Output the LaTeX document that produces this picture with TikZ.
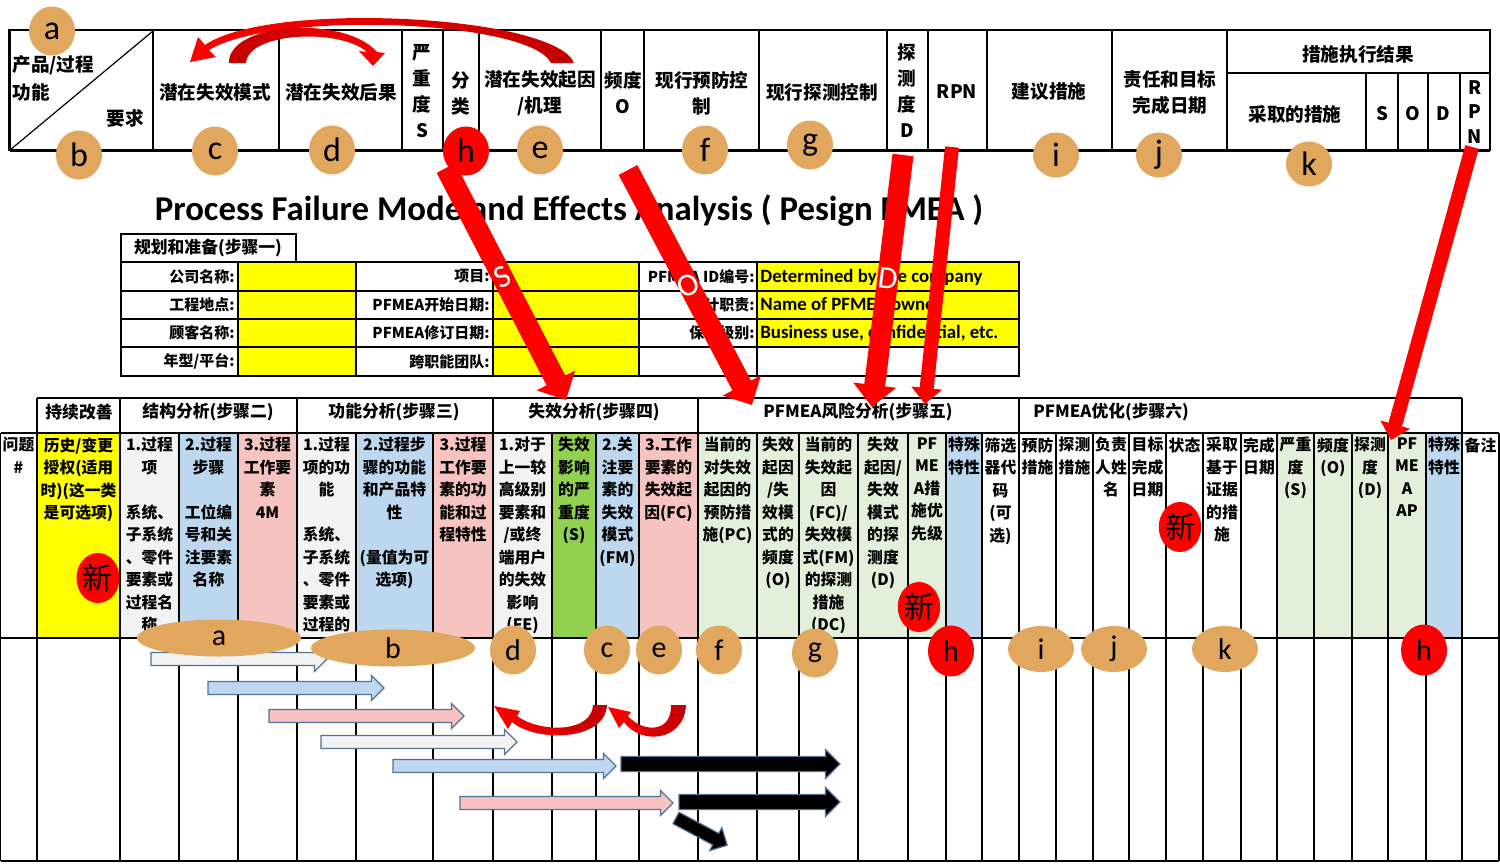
\documentclass[tikz,border=0pt]{standalone}
\usepackage{fontspec}
\setmainfont{Carlito}
\newfontfamily\cjk{Noto Sans CJK SC}
\usetikzlibrary{shapes.geometric,arrows.meta}
\definecolor{bubble}{RGB}{225,167,95}
\definecolor{ylw}{RGB}{255,255,0}
\definecolor{lgray}{RGB}{242,242,242}
\definecolor{lblue}{RGB}{189,215,238}
\definecolor{lpink}{RGB}{246,195,192}
\definecolor{grn}{RGB}{146,208,80}
\definecolor{lgrn}{RGB}{226,239,218}
\definecolor{dred}{RGB}{192,0,0}
\definecolor{arrline}{RGB}{84,112,150}
% block arrow: x start, x tip, y, fill, half shaft, half head
\newcommand{\barrow}[6]{\draw[barr,fill=#4] (#1,#3-#5) -- (#2-#6,#3-#5) -- (#2-#6,#3-#6) -- (#2,#3) -- (#2-#6,#3+#6) -- (#2-#6,#3+#5) -- (#1,#3+#5) -- cycle;}

\begin{document}
\begin{tikzpicture}[x=0.5pt,y=-0.5pt,
	rule/.style={line width=0.6pt},
	tblframe/.style={line width=1.1pt},
	tophd/.style={align=center,inner sep=0pt,font=\cjk\bfseries\fontsize{9.3}{13}\selectfont},
	stephd/.style={inner sep=0pt,font=\cjk\bfseries\fontsize{8.4}{10}\selectfont},
	colhd/.style={anchor=north,align=center,inner sep=0pt,font=\cjk\bfseries\fontsize{7.9}{11.25}\selectfont},
	infolab/.style={anchor=east,inner sep=0pt,font=\cjk\bfseries\fontsize{7.5}{9}\selectfont},
	infoval/.style={anchor=base west,inner sep=0pt,font=\bfseries\fontsize{9.4}{11}\selectfont},
	bub/.style={ellipse,fill=bubble,inner sep=0pt,minimum width=23pt,minimum height=24.5pt,font=\fontsize{17}{17}\selectfont},
	lowbub/.style={bub,font=\fontsize{15}{15}\selectfont},
	redbub/.style={bub,fill=red},
	newbub/.style={ellipse,fill=red,inner sep=0pt,minimum width=19pt,minimum height=25pt,font=\cjk\fontsize{15}{15}\selectfont},
	bigarr/.style={draw=red,line width=10.5pt,-{Triangle[length=11pt,width=21pt]}},
	thinarr/.style={draw=red,line width=7pt,-{Triangle[length=8pt,width=15pt]}},
	arrlab/.style={text=white,inner sep=0pt,font=\fontsize{16}{16}\selectfont},
	barr/.style={draw=arrline,line width=0.6pt}]
	\useasboundingbox (0,0) rectangle (1500,863);
	% old form header
	\draw[tblframe] (9.5,30) rectangle (1490,150);
	\draw[rule] (10,150) -- (153,31);
	\foreach \x in {153,279,402,443,479,601,644,759,887,928,987,1112,1227}
		\draw[rule] (\x,30) -- (\x,150);
	\draw[rule] (1227,73) -- (1490,73);
	\foreach \x in {1366,1398,1428,1460}
		\draw[rule] (\x,73) -- (\x,150);
	\draw[line width=1.5pt] (9.5,150) -- (1490,150);
	\node[tophd,anchor=west] (tPF) at (12,65) {产品/过程};
	\node[tophd,anchor=west] (tFn) at (12,92) {功能};
	\node[tophd] (tReq) at (125,118) {要求};
	\node[tophd] (tFM) at (215,92) {潜在失效模式};
	\node[tophd] (tFE) at (341,92) {潜在失效后果};
	\node[tophd] (tSev) at (422,91) {严\\重\\度\\S};
	\node[tophd] (tCls) at (461,93) {分\\类};
	\node[tophd] (tFC) at (540,93) {潜在失效起因\\/机理};
	\node[tophd] (tOcc) at (623,93) {频度\\O};
	\node[tophd] (tPC) at (702,93) {现行预防控\\制};
	\node[tophd] (tDC) at (822,92) {现行探测控制};
	\node[tophd] (tDet) at (907,91) {探\\测\\度\\D};
	\node[tophd] (tRPN) at (957,92) {RPN};
	\node[tophd] (tRec) at (1049,92) {建议措施};
	\node[tophd] (tResp) at (1170,93) {责任和目标\\完成日期};
	\node[tophd] (tRes) at (1358,54) {措施执行结果};
	\node[tophd] (tAct) at (1295,114) {采取的措施};
	\node[tophd] (tS) at (1382,114) {S};
	\node[tophd] (tO) at (1413,114) {O};
	\node[tophd] (tD) at (1443,114) {D};
	\node[tophd,font=\cjk\bfseries\fontsize{9.3}{12.3}\selectfont] (tRPN2) at (1475,112) {R\\P\\N};
	% title
	\node[anchor=base,inner sep=0pt,font=\bfseries\fontsize{17.4}{17.4}\selectfont] (title) at (569,220)
		{Process Failure Mode and Effects Analysis ( Pesign FMEA )};
	% planning and preparation
	\draw[rule] (121,234) rectangle (296,262);
	\node[stephd] (plan) at (208,248) {规划和准备(步骤一)};
	\fill[ylw] (238,262) rectangle (356,376);
	\fill[ylw] (493,262) rectangle (639,376);
	\fill[ylw] (757,262) rectangle (1019,347);
	\draw[rule] (121,262) rectangle (1019,376);
	\foreach \y in {291,319,347}
		\draw[rule] (121,\y) -- (1019,\y);
	\foreach \x in {238,356,493,639,757}
		\draw[rule] (\x,262) -- (\x,376);
	\node[infolab] (iComp) at (235,276.5) {公司名称:};
	\node[infolab] (iSite) at (235,305) {工程地点:};
	\node[infolab] (iCust) at (235,333) {顾客名称:};
	\node[infolab] (iYear) at (235,361.5) {年型/平台:};
	\node[infolab] (iProj) at (490,276.5) {项目:};
	\node[infolab] (iStart) at (490,305) {PFMEA开始日期:};
	\node[infolab] (iRev) at (490,333) {PFMEA修订日期:};
	\node[infolab] (iTeam) at (490,361.5) {跨职能团队:};
	\node[infolab] (iID) at (755,276.5) {PFMEA ID编号:};
	\node[infolab] (iResp) at (755,305) {设计职责:};
	\node[infolab] (iConf) at (755,333) {保密级别:};
	\node[infoval] (vID) at (760,282) {Determined by the company};
	\node[infoval] (vResp) at (760,310.5) {Name of PFMEA owner};
	\node[infoval] (vConf) at (760,338.5) {Business use, confidential, etc.};
	% new form, column colours
	\fill[ylw] (37,433) rectangle (120,638);
	\fill[lgray] (120,433) rectangle (179,638);
	\fill[lblue] (179,433) rectangle (238,638);
	\fill[lpink] (238,433) rectangle (297,638);
	\fill[lgray] (297,433) rectangle (356,638);
	\fill[lblue] (356,433) rectangle (433,638);
	\fill[lpink] (433,433) rectangle (493,638);
	\fill[lgray] (493,433) rectangle (552,638);
	\fill[grn] (552,433) rectangle (596,638);
	\fill[lblue] (596,433) rectangle (639,638);
	\fill[lpink] (639,433) rectangle (698,638);
	\fill[lgrn] (698,433) rectangle (946,638);
	\fill[lblue] (946,433) rectangle (982,638);
	\fill[lgrn] (1277,433) rectangle (1426,638);
	\fill[lblue] (1426,433) rectangle (1462,638);
	% new form, grid
	\draw[rule] (37,398) -- (1462,398);
	\draw[rule] (0.8,433) -- (1499,433);
	\draw[rule] (0.8,638) -- (1499,638);
	\draw[rule] (0.8,861) -- (1499,861);
	\foreach \x in {37,120,297,493,698,1019,1462}
		\draw[rule] (\x,398) -- (\x,861);
	\foreach \x in {0.8,179,238,356,433,552,596,639,757,799,858,908,946,982,1056,1093,1129,1166,1203,1241,1277,1314,1352,1388,1426,1499}
		\draw[rule] (\x,433) -- (\x,861);
	% steps
	\node[stephd] (st0) at (79,412) {持续改善};
	\node[stephd] (st2) at (208,412) {结构分析(步骤二)};
	\node[stephd] (st3) at (394,412) {功能分析(步骤三)};
	\node[stephd] (st4) at (594,412) {失效分析(步骤四)};
	\node[stephd] (st5) at (858,412) {PFMEA风险分析(步骤五)};
	\node[stephd,anchor=west] (st6) at (1033,412) {PFMEA优化(步骤六)};
	% column heads
	\node[colhd] (c1) at (18.5,437) {问题\\\#};
	\node[colhd] (c2) at (78.5,437) {历史/变更\\授权(适用\\时)(这一类\\是可选项)};
	\node[colhd] (c3) at (149.5,437) {1.过程\\项\\[11.25pt]系统、\\子系统\\、零件\\要素或\\过程名\\称};
	\node[colhd] (c4) at (208.5,437) {2.过程\\步骤\\[11.25pt]工位编\\号和关\\注要素\\名称};
	\node[colhd] (c5) at (267.5,437) {3.过程\\工作要\\素\\4M};
	\node[colhd] (c6) at (326.5,437) {1.过程\\项的功\\能\\[11.25pt]系统、\\子系统\\、零件\\要素或\\过程的};
	\node[colhd] (c7) at (394.5,437) {2.过程步\\骤的功能\\和产品特\\性\\[11.25pt](量值为可\\选项)};
	\node[colhd] (c8) at (463,437) {3.过程\\工作要\\素的功\\能和过\\程特性};
	\node[colhd] (c9) at (522.5,437) {1.对于\\上一较\\高级别\\要素和\\/或终\\端用户\\的失效\\影响\\(FE)};
	\node[colhd] (c10) at (574,437) {失效\\影响\\的严\\重度\\(S)};
	\node[colhd] (c11) at (617.5,437) {2.关\\注要\\素的\\失效\\模式\\(FM)};
	\node[colhd] (c12) at (668.5,437) {3.工作\\要素的\\失效起\\因(FC)};
	\node[colhd] (c13) at (727.5,437) {当前的\\对失效\\起因的\\预防措\\施(PC)};
	\node[colhd] (c14) at (778,437) {失效\\起因\\/失\\效模\\式的\\频度\\(O)};
	\node[colhd] (c15) at (828.5,437) {当前的\\失效起\\因\\(FC)/\\失效模\\式(FM)\\的探测\\措施\\(DC)};
	\node[colhd] (c16) at (883,437) {失效\\起因/\\失效\\模式\\的探\\测度\\(D)};
	\node[colhd] (c17) at (927,437) {PF\\ME\\A措\\施优\\先级};
	\node[colhd] (c18) at (964,437) {特殊\\特性};
	\node[colhd] (c19) at (1000.5,437) {筛选\\器代\\码\\(可\\选)};
	\node[colhd] (c20) at (1037.5,437) {预防\\措施};
	\node[colhd] (c21) at (1074.5,437) {探测\\措施};
	\node[colhd] (c22) at (1111,437) {负责\\人姓\\名};
	\node[colhd] (c23) at (1147.5,437) {目标\\完成\\日期};
	\node[colhd] (c24) at (1184.5,437) {状态};
	\node[colhd] (c25) at (1222,437) {采取\\基于\\证据\\的措\\施};
	\node[colhd] (c26) at (1259,437) {完成\\日期};
	\node[colhd] (c27) at (1295.5,437) {严重\\度\\(S)};
	\node[colhd] (c28) at (1333,437) {频度\\(O)};
	\node[colhd] (c29) at (1370,437) {探测\\度\\(D)};
	\node[colhd] (c30) at (1407,437) {PF\\ME\\A\\AP};
	\node[colhd] (c31) at (1444,437) {特殊\\特性};
	\node[colhd] (c32) at (1480.5,437) {备注};
	% flow of the analysis
	\barrow{151}{327}{659}{lgray}{6.5}{12.5}
	\barrow{208}{384}{688}{lblue}{6.5}{12.5}
	\barrow{269}{464}{716}{lpink}{6.5}{12.5}
	\barrow{321}{517}{742}{lgray}{6.5}{12.5}
	\barrow{393}{616}{766}{lblue}{6.5}{12.5}
	\barrow{460}{673}{803}{lpink}{6.5}{12.5}
	\barrow{621}{840}{764}{black}{7.5}{14.5}
	\barrow{679}{840}{802}{black}{7.5}{14.5}
	\begin{scope}[shift={(676,818)},rotate=-28]
		\barrow{0}{58}{0}{black}{6.5}{13}
	\end{scope}
	% curved arrows
	\shade[left color=red,right color=dred] (574,63) .. controls (555,15) and (270,0) .. (205,45)
		-- (198,37) -- (190,62) -- (216,57) -- (209,50) .. controls (275,10) and (530,20) .. (551,63) -- cycle;
	\shade[left color=dred,right color=red] (229,63) .. controls (228,22) and (345,15) .. (377,52)
		-- (385,53) -- (373,66) -- (359,51) -- (367,52) .. controls (340,28) and (248,32) .. (246,63) -- cycle;
	\shade[left color=red,right color=dred] (607,705) .. controls (605,742) and (535,742) .. (512,722)
		-- (508,729) -- (494,706) -- (520,711) -- (517,716) .. controls (540,733) and (592,733) .. (593,705) -- cycle;
	\shade[left color=red,right color=dred] (686,705) .. controls (684,742) and (640,745) .. (624,722)
		-- (619,728) -- (608,707) -- (631,712) -- (628,716) .. controls (643,733) and (672,733) .. (671,705) -- cycle;
	% S, O, D arrows
	\coordinate (sTail) at (446,168);
	\coordinate (sTip) at (566,400);
	\coordinate (oTail) at (628,170);
	\coordinate (oTip) at (752,405);
	\coordinate (dTail) at (903,155);
	\coordinate (dTip) at (872,407);
	\coordinate (rTail) at (952,147);
	\coordinate (rTip) at (925,404);
	\coordinate (apTail) at (1472,147);
	\coordinate (apTip) at (1391,440);
	\draw[bigarr] (sTail) -- node[arrlab,pos=0.47,rotate=27] (sLab) {S} (sTip);
	\draw[bigarr] (oTail) -- node[arrlab,pos=0.49,rotate=27] (oLab) {O} (oTip);
	\draw[bigarr] (dTail) -- node[arrlab,pos=0.49,rotate=-7] (dLab) {D} (dTip);
	\draw[thinarr] (rTail) -- (rTip);
	\draw[thinarr] (apTail) -- (apTip);
	% letters, old form
	\node[bub] (ta) at (52,31) {a};
	\node[bub] (tb) at (79,155) {b};
	\node[bub] (tc) at (215,151) {c};
	\node[bub] (td) at (332,150) {d};
	\node[redbub] (th) at (466,151) {h};
	\node[bub] (te) at (540,150) {e};
	\node[bub] (tf) at (705,150) {f};
	\node[bub] (tg) at (810,145) {g};
	\node[bub,minimum height=22.5pt] (ti) at (1056,155) {i};
	\node[bub,minimum height=22.5pt] (tj) at (1159,155) {j};
	\node[bub,minimum height=22.5pt] (tk) at (1309,164) {k};
	% letters, new form
	\node[lowbub,minimum width=82pt,minimum height=18.5pt] (ba) at (219,638) {a};
	\node[lowbub,minimum width=82pt,minimum height=18.5pt] (bb) at (393,648) {b};
	\node[lowbub] (bd) at (513,650) {d};
	\node[lowbub] (bc) at (607,650) {c};
	\node[lowbub] (be) at (659,650) {e};
	\node[lowbub] (bf) at (719,650) {f};
	\node[lowbub] (bg) at (815,653) {g};
	\node[lowbub,fill=red,minimum height=25.5pt] (bh) at (951,651) {h};
	\node[lowbub,minimum width=33pt,minimum height=23pt] (bi) at (1041,649) {i};
	\node[lowbub,minimum width=33pt,minimum height=23pt] (bj) at (1114,649) {j};
	\node[lowbub,minimum width=33pt,minimum height=23pt] (bk) at (1225,649) {k};
	\node[lowbub,fill=red,minimum height=25.5pt] (bh2) at (1424,650) {h};
	% new items
	\node[newbub,minimum width=21.5pt] (n1) at (98,578) {新};
	\node[newbub] (n2) at (919,607) {新};
	\node[newbub] (n3) at (1180,527) {新};
\end{tikzpicture}
\end{document}
